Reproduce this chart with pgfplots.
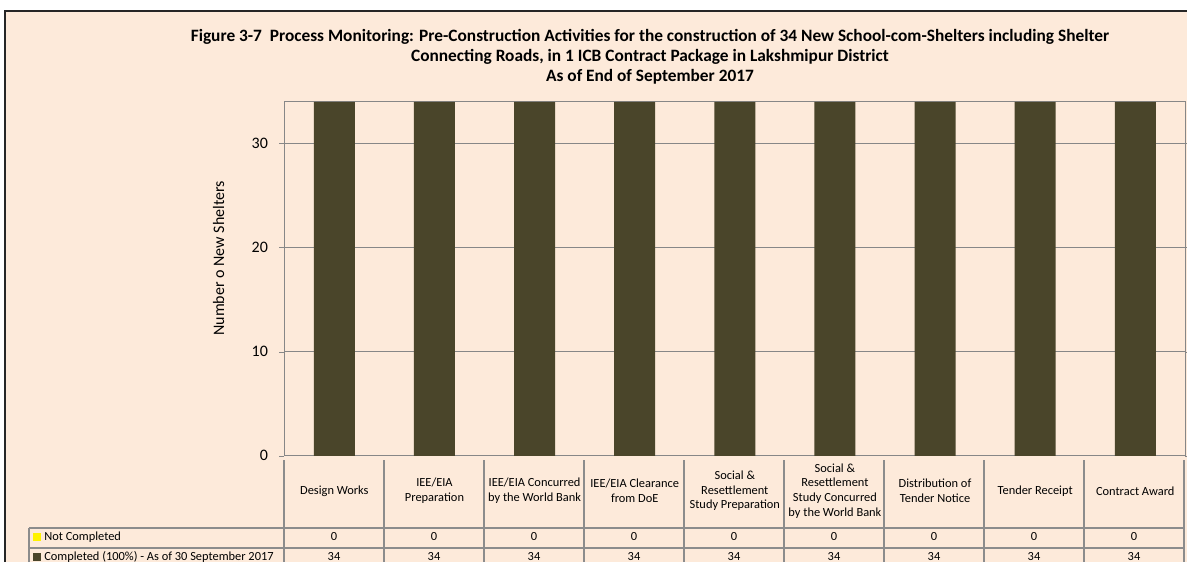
\documentclass[border=0pt]{standalone}
\usepackage{pgfplots}
\pgfplotsset{compat=1.18}
\usepackage{pgfplotstable}
\usepackage{fontspec}
\setmainfont{Carlito}

\definecolor{peach}{HTML}{FDEADA}
\definecolor{barcol}{HTML}{4A452A}
\definecolor{gridcol}{HTML}{878787}
\definecolor{tablecol}{HTML}{8C8C8C}

% categories 0..8, completed and not completed counts
\pgfplotstableread{
x completed notcompleted
0 34 0
1 34 0
2 34 0
3 34 0
4 34 0
5 34 0
6 34 0
7 34 0
8 34 0
}\datatable

\begin{document}
\begin{tikzpicture}[x=0.75pt,y=0.75pt]
\useasboundingbox (0,0) rectangle (1187,562);
\fill[white] (0,0) rectangle (1187,562);
\fill[peach] (5,0) rectangle (1187,551);
\draw[black!85, line width=1.1pt] (5,0) -- (5,551) -- (1187,551);

\node[font=\bfseries\fontsize{13}{15}\selectfont, align=center] at (650,505)
  {Figure 3-7\ \ Process Monitoring: Pre-Construction Activities for the construction of 34 New School-com-Shelters including Shelter\\
   Connecting Roads, in 1 ICB Contract Package in Lakshmipur District\\
   As of End of September 2017};

\begin{axis}[
  at={(284,102)}, anchor=south west,
  scale only axis, width=675.75pt, height=265.5pt,
  ybar stacked, bar width=30.75pt,
  xmin=-0.5, xmax=8.5, ymin=0, ymax=34,
  ytick={0,10,20,30},
  xtick={0,...,8},
  xticklabels={{Design Works},{IEE/EIA\\Preparation},{IEE/EIA Concurred\\by the World Bank},{IEE/EIA Clearance\\from DoE},{Social \&\\Resettlement\\Study Preparation},{Social \&\\Resettlement\\Study Concurred\\by the World Bank},{Distribution of\\Tender Notice},{Tender Receipt},{Contract Award}},
  xticklabel style={font=\fontsize{9.3}{11}\selectfont, align=center, anchor=center, yshift=-22.5pt},
  x tick style={draw=none},
  y tick style={gridcol},
  tick align=outside, major tick length=3.75pt,
  yticklabel style={font=\fontsize{12}{14}\selectfont, xshift=-5pt},
  /pgf/number format/assume math mode=true,
  ymajorgrids, grid style={gridcol, line width=0.8pt},
  axis line style={gridcol, line width=0.8pt},
  axis background/.style={fill=peach},
  ylabel={Number o New Shelters},
  ylabel style={font=\fontsize{12}{14}\selectfont, at={(axis description cs:-0.073,0.558)}, anchor=center},
  clip=false,
]
\addplot[fill=barcol, draw=none] table[x=x, y=completed] {\datatable};
\addplot[fill=yellow, draw=none] table[x=x, y=notcompleted] {\datatable};
\end{axis}

% data table below the axis
\draw[tablecol, line width=0.8pt] (29,34) -- (1185,34) (29,14) -- (1185,14) (29,0) -- (29,34);
\foreach \k in {0,...,9} \draw[tablecol, line width=0.8pt] (284+100*\k,102) -- (284+100*\k,0);
\fill[yellow] (33,21) rectangle (41,29);
\fill[barcol] (33,1) rectangle (41,9);
\node[anchor=west, font=\fontsize{9.3}{11}\selectfont, inner sep=0pt] at (44,25) {Not Completed};
\node[anchor=west, font=\fontsize{9.3}{11}\selectfont, inner sep=0pt] at (44,5) {Completed (100\%) - As of 30 September 2017};
\foreach \k in {0,...,8} {
  \node[font=\fontsize{9.3}{11}\selectfont] at (334+100*\k,25) {0};
  \node[font=\fontsize{9.3}{11}\selectfont] at (334+100*\k,5) {34};
}
\end{tikzpicture}
\end{document}
